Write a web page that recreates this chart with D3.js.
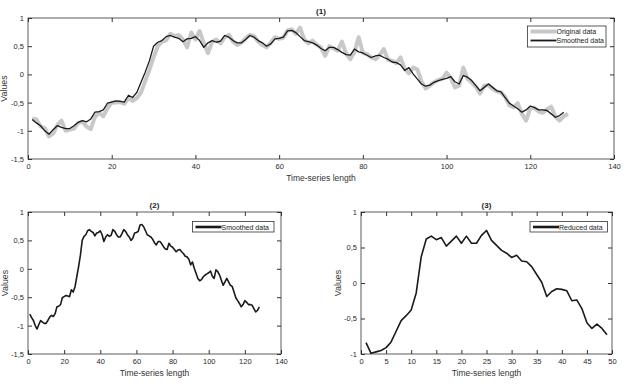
<!DOCTYPE html>
<html>
<head>
<meta charset="utf-8">
<script src="https://cdn.jsdelivr.net/npm/d3@7"></script>
<style>
  body { margin: 0; background: #fff; }
  svg { font-family: "Liberation Sans", Arial, sans-serif; }
  .tick text { fill: #2a2a2a; }
</style>
</head>
<body>
<div id="chart"></div>
<script>
// 平滑后的数据 (x = 1..128)
const smoothed = [
  -0.80, -0.86, -0.91, -1.00, -1.06, -0.98, -0.91, -0.94, -0.96, -0.96,
  -0.91, -0.85, -0.82, -0.84, -0.79, -0.67, -0.66, -0.63, -0.51, -0.49,
  -0.47, -0.48, -0.49, -0.37, -0.41, -0.32, -0.14, 0.04, 0.24, 0.50,
  0.57, 0.60, 0.67, 0.69, 0.66, 0.64, 0.58, 0.63, 0.64, 0.67,
  0.60, 0.48, 0.56, 0.60, 0.57, 0.59, 0.69, 0.66, 0.60, 0.56,
  0.56, 0.62, 0.69, 0.66, 0.60, 0.56, 0.50, 0.54, 0.63, 0.64,
  0.66, 0.77, 0.78, 0.74, 0.67, 0.60, 0.58, 0.56, 0.52, 0.46,
  0.42, 0.48, 0.48, 0.44, 0.39, 0.35, 0.34, 0.45, 0.40, 0.38,
  0.34, 0.30, 0.33, 0.34, 0.30, 0.27, 0.22, 0.21, 0.17, 0.07,
  0.12, 0.01, -0.08, -0.17, -0.21, -0.19, -0.14, -0.11, -0.09, -0.07,
  -0.04, -0.13, -0.17, -0.02, -0.05, -0.11, -0.20, -0.29, -0.23, -0.17,
  -0.23, -0.29, -0.31, -0.41, -0.51, -0.56, -0.61, -0.67, -0.63, -0.56,
  -0.59, -0.63, -0.63, -0.64, -0.70, -0.76, -0.73, -0.67
];

// 原始数据 (x = 1..129)
const original = [
  -0.78, -0.80, -0.92, -0.95, -1.10, -1.05, -0.90, -0.82, -1.00, -0.98,
  -0.96, -0.86, -0.84, -0.93, -0.97, -0.75, -0.68, -0.74, -0.60, -0.50,
  -0.50, -0.49, -0.52, -0.42, -0.47, -0.42, -0.32, -0.12, 0.08, 0.30,
  0.50, 0.58, 0.60, 0.72, 0.68, 0.70, 0.62, 0.48, 0.74, 0.62,
  0.77, 0.55, 0.38, 0.58, 0.62, 0.55, 0.66, 0.70, 0.58, 0.52,
  0.56, 0.64, 0.70, 0.68, 0.58, 0.52, 0.48, 0.56, 0.66, 0.63,
  0.65, 0.78, 0.80, 0.72, 0.83, 0.62, 0.55, 0.60, 0.52, 0.48,
  0.33, 0.50, 0.46, 0.42, 0.58, 0.37, 0.27, 0.40, 0.66, 0.38,
  0.36, 0.30, 0.27, 0.34, 0.45, 0.26, 0.24, 0.20, 0.30, 0.10,
  0.02, 0.12, 0.09, -0.12, -0.25, -0.20, -0.14, -0.10, -0.08, 0.03,
  -0.06, -0.23, -0.20, 0.12, -0.08, -0.14, -0.22, -0.34, -0.20, -0.19,
  -0.26, -0.30, -0.32, -0.40, -0.55, -0.58, -0.51, -0.70, -0.82, -0.60,
  -0.59, -0.66, -0.68, -0.62, -0.57, -0.75, -0.82, -0.74, -0.70
];

// 降维后的数据 (x = 1..49)
const reduced = [
  -0.84, -0.99, -0.97, -0.95, -0.91, -0.83, -0.68, -0.53, -0.46, -0.38,
  -0.14, 0.37, 0.62, 0.66, 0.61, 0.64, 0.52, 0.59, 0.66, 0.56,
  0.66, 0.56, 0.56, 0.67, 0.74, 0.60, 0.53, 0.46, 0.42, 0.36,
  0.39, 0.31, 0.30, 0.23, 0.12, 0.01, -0.19, -0.12, -0.08, -0.09,
  -0.11, -0.25, -0.24, -0.36, -0.56, -0.64, -0.58, -0.64, -0.73
];

// 刻度
const xTicksLong = [0, 20, 40, 60, 80, 100, 120, 140];
const xTicksShort = [0, 5, 10, 15, 20, 25, 30, 35, 40, 45, 50];
const yTicksWide = [-1.5, -1, -0.5, 0, 0.5, 1];
const yTicksNarrow = [-1, -0.5, 0, 0.5, 1];

const titles = ["(1)", "(2)", "(3)"];
const xLabel = "Time-series length";
const yLabel = "Values";

const svg = d3.select("#chart")
  .append("svg")
  .attr("width", 624)
  .attr("height", 384);

// 逗号小数
const fmt = d => String(d).replace(".", ",");

function panel(p) {
  const x = d3.scaleLinear().domain(p.xDomain).range([p.x0, p.x1]);
  const y = d3.scaleLinear().domain(p.yDomain).range([p.y1, p.y0]);
  const g = svg.append("g");

  // 坐标轴 (刻度朝内, 四边都有)
  g.append("g")
    .attr("transform", `translate(0,${p.y1})`)
    .call(d3.axisBottom(x).tickValues(p.xTicks).tickSize(-4).tickPadding(5).tickFormat(fmt))
    .call(a => a.select(".domain").remove());
  g.append("g")
    .attr("transform", `translate(0,${p.y0})`)
    .call(d3.axisTop(x).tickValues(p.xTicks).tickSize(-4).tickFormat(""))
    .call(a => a.select(".domain").remove());
  g.append("g")
    .attr("transform", `translate(${p.x0},0)`)
    .call(d3.axisLeft(y).tickValues(p.yTicks).tickSize(-4).tickPadding(4).tickFormat(fmt))
    .call(a => a.select(".domain").remove());
  g.append("g")
    .attr("transform", `translate(${p.x1},0)`)
    .call(d3.axisRight(y).tickValues(p.yTicks).tickSize(-4).tickFormat(""))
    .call(a => a.select(".domain").remove());

  g.selectAll(".tick line").attr("stroke", "#333");
  g.selectAll(".tick text").attr("font-size", 7.5).attr("font-family", "Liberation Sans, Arial, sans-serif");

  g.append("rect")
    .attr("x", p.x0).attr("y", p.y0)
    .attr("width", p.x1 - p.x0).attr("height", p.y1 - p.y0)
    .attr("fill", "none").attr("stroke", "#333").attr("stroke-width", 0.8);

  // 数据线
  const line = d3.line().x((d, i) => x(i + 1)).y(d => y(d));
  p.series.forEach(s => {
    g.append("path")
      .datum(s.data)
      .attr("d", line)
      .attr("fill", "none")
      .attr("stroke", s.color)
      .attr("stroke-width", s.width)
      .attr("stroke-linejoin", "round");
  });

  // 标题和轴标签
  g.append("text")
    .attr("x", (p.x0 + p.x1) / 2).attr("y", p.y0 - 4)
    .attr("text-anchor", "middle").attr("font-size", 8).attr("font-weight", "bold")
    .attr("fill", "#222")
    .text(p.title);
  g.append("text")
    .attr("x", (p.x0 + p.x1) / 2).attr("y", p.y1 + 22)
    .attr("text-anchor", "middle").attr("font-size", 8.5).attr("fill", "#333")
    .text(xLabel);
  g.append("text")
    .attr("transform", `translate(${p.yLabelX},${(p.y0 + p.y1) / 2}) rotate(-90)`)
    .attr("text-anchor", "middle").attr("font-size", 8.8).attr("fill", "#333")
    .text(yLabel);

  // 图例
  const lg = g.append("g").attr("transform", `translate(${p.legend.x},${p.legend.y})`);
  lg.append("rect")
    .attr("width", p.legend.w).attr("height", 10.5 + (p.series.length - 1) * 9 + (p.series.length > 1 ? 1.5 : 0))
    .attr("fill", "#fff").attr("stroke", "#333").attr("stroke-width", 0.8);
  p.series.forEach((s, i) => {
    const cy = 5.5 + i * 9;
    lg.append("line")
      .attr("x1", 3).attr("x2", 29).attr("y1", cy).attr("y2", cy)
      .attr("stroke", s.color).attr("stroke-width", s.legendWidth);
    lg.append("text")
      .attr("x", 29).attr("y", cy + 2.5)
      .attr("font-size", 7).attr("fill", "#222")
      .text(s.name);
  });
}

panel({
  x0: 28, x1: 614, y0: 18, y1: 159,
  xDomain: [0, 140], yDomain: [-1.5, 1],
  xTicks: xTicksLong, yTicks: yTicksWide,
  title: titles[0], yLabelX: 7,
  legend: { x: 527.5, y: 26, w: 78.5 },
  series: [
    { name: "Original data", data: original, color: "#c8c8c8", width: 4, legendWidth: 4 },
    { name: "Smoothed data", data: smoothed, color: "#1a1a1a", width: 1.3, legendWidth: 1.8 }
  ]
});

panel({
  x0: 28, x1: 281, y0: 212, y1: 354,
  xDomain: [0, 140], yDomain: [-1.5, 1],
  xTicks: xTicksLong, yTicks: yTicksWide,
  title: titles[1], yLabelX: 8,
  legend: { x: 192.5, y: 221.5, w: 81.5 },
  series: [
    { name: "Smoothed data", data: smoothed, color: "#1a1a1a", width: 1.6, legendWidth: 2.6 }
  ]
});

panel({
  x0: 361, x1: 612, y0: 212, y1: 354,
  xDomain: [0, 50], yDomain: [-1, 1],
  xTicks: xTicksShort, yTicks: yTicksNarrow,
  title: titles[2], yLabelX: 341,
  legend: { x: 530, y: 221.5, w: 77.5 },
  series: [
    { name: "Reduced data", data: reduced, color: "#1a1a1a", width: 1.6, legendWidth: 2.6 }
  ]
});
</script>
</body>
</html>
